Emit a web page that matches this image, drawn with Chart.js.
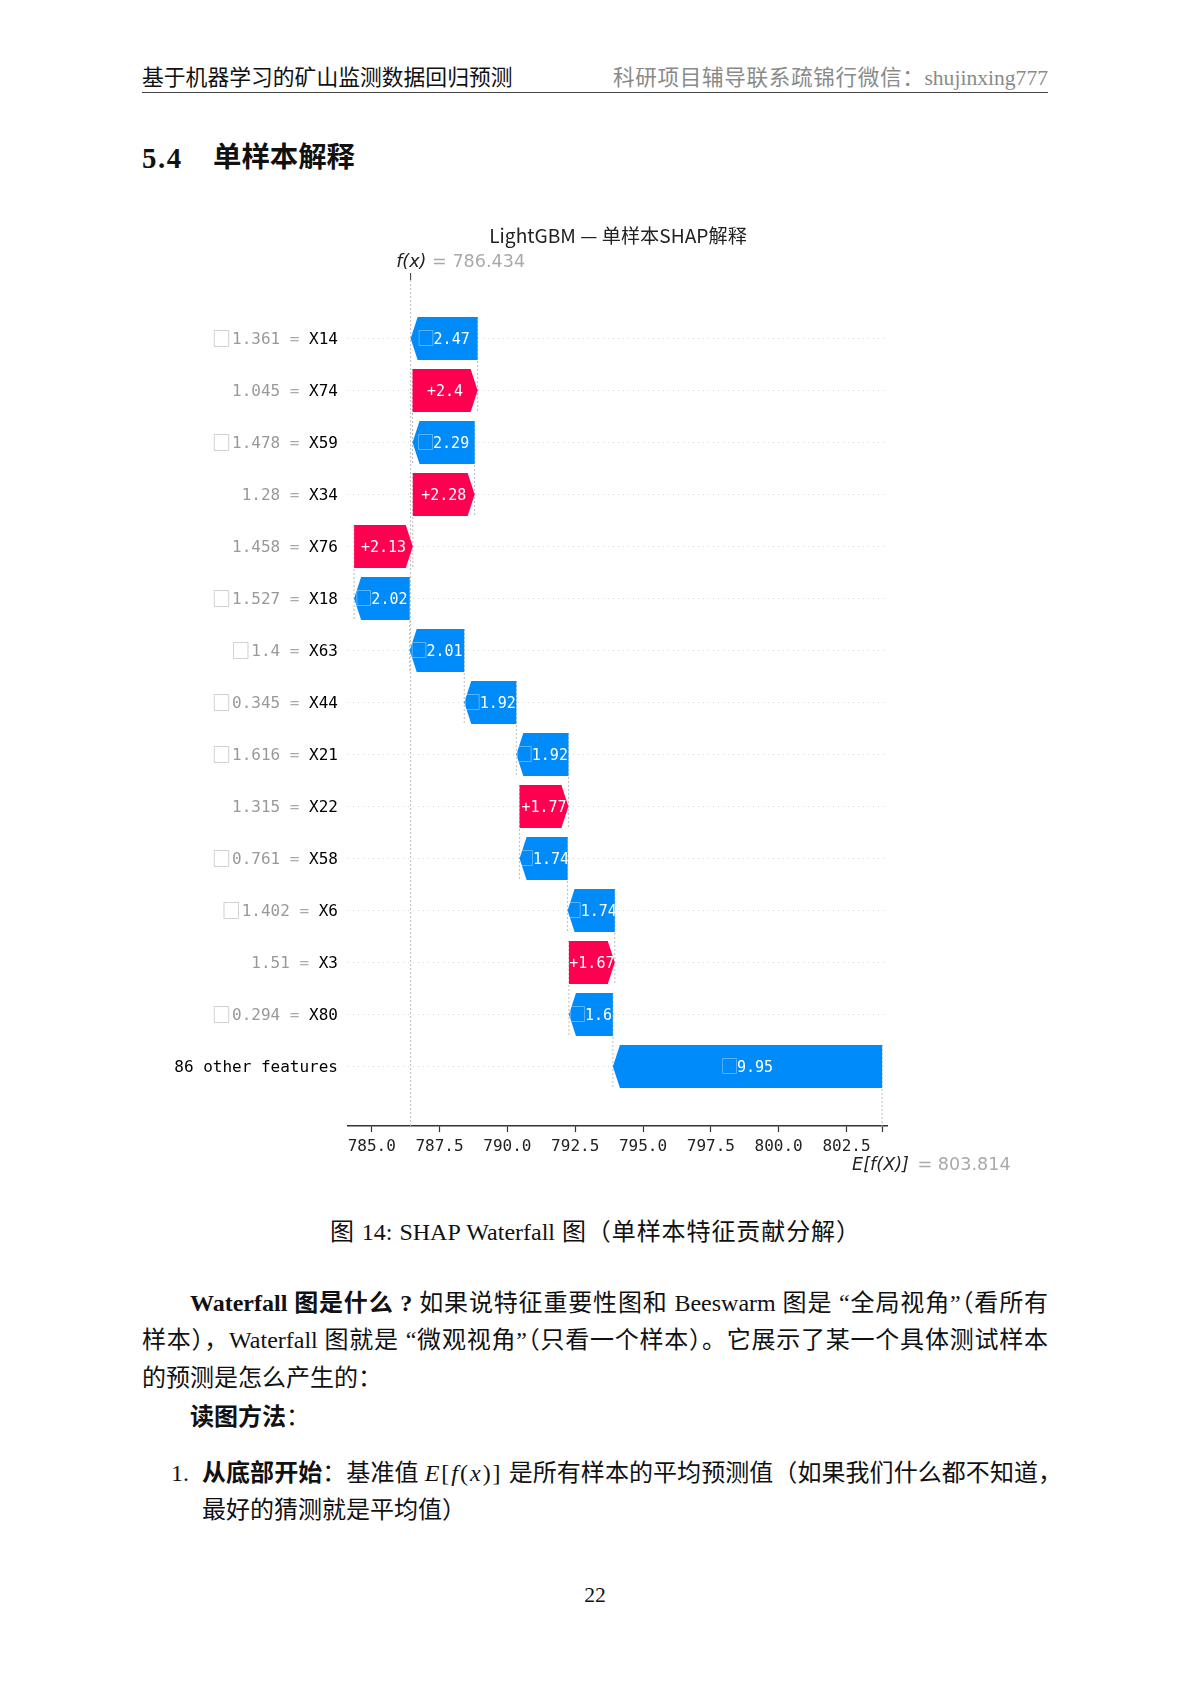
<!DOCTYPE html>
<html lang="zh">
<head>
<meta charset="utf-8">
<title>SHAP Waterfall</title>
<script src="https://cdn.jsdelivr.net/npm/chart.js@4/dist/chart.umd.min.js"></script>
<style>
  html, body { margin: 0; padding: 0; background: #fff; }
  #page { position: relative; width: 1191px; height: 1684px; overflow: hidden;
    font-family: "Liberation Serif", "Noto Sans CJK SC", serif; font-size: 24px; color: #111; }
  #page div { position: absolute; white-space: nowrap; line-height: 30px; }
  #page b { font-weight: 700; }
  #page i { font-style: italic; }
  .just { text-align: justify; text-align-last: justify; text-justify: inter-character; white-space: normal !important; }
  #chartBox { top: 205px; left: 148px; width: 940px; height: 985px; }
</style>
</head>
<body>
<div id="page">
  <div style="left:142px;top:63px;font-size:21.8px">基于机器学习的矿山监测数据回归预测</div>
  <div class="just" style="left:613px;width:435px;height:30px;top:63px;font-size:21.6px;color:#8a8a8a">科研项目辅导联系疏锦行微信：shujinxing777</div>
  <div style="left:142px;top:92px;width:906px;height:1.4px;background:#444"></div>
  <div style="left:142px;top:143px;font-size:28.8px;font-weight:700;letter-spacing:1.6px">5.4</div>
  <div style="left:213px;top:143px;font-size:28.4px;font-weight:700">单样本解释</div>

  <div id="chartBox"><canvas id="waterfall"></canvas></div>

  <div class="just" style="left:330px;width:530px;height:30px;top:1217px">图 14: SHAP Waterfall 图（单样本特征贡献分解）</div>
  <div class="just" style="left:190px;width:858px;top:1288px;height:30px"><b>Waterfall 图是什么 ?</b> 如果说特征重要性图和 Beeswarm 图是 “全局视角”（看所有</div>
  <div class="just" style="left:142px;width:906px;top:1325px;height:30px">样本），Waterfall 图就是 “微观视角”（只看一个样本）。它展示了某一个具体测试样本</div>
  <div style="left:142px;top:1363px">的预测是怎么产生的：</div>
  <div style="left:190px;top:1402px"><b>读图方法</b>：</div>
  <div style="left:171px;top:1458px">1.</div>
  <div class="just" style="left:202px;width:860px;top:1458px;height:30px"><b>从底部开始</b>：基准值 <span style="letter-spacing:2px"><i>E</i>[<i>f</i>(<i>x</i>)]</span> 是所有样本的平均预测值（如果我们什么都不知道，</div>
  <div style="left:202px;top:1495px">最好的猜测就是平均值）</div>
  <div style="left:142px;width:906px;top:1580px;text-align:center;font-size:21.6px">22</div>
</div>

<script>
// values, top row first
const features = ["X14", "X74", "X59", "X34", "X76", "X18", "X63", "X44", "X21", "X22", "X58", "X6", "X3", "X80", "86 other features"];
const featureValues = ["□1.361", "1.045", "□1.478", "1.28", "1.458", "□1.527", "□1.4", "□0.345", "□1.616", "1.315", "□0.761", "□1.402", "1.51", "□0.294", ""];
const barLabels = ["□2.47", "+2.4", "□2.29", "+2.28", "+2.13", "□2.02", "□2.01", "□1.92", "□1.92", "+1.77", "□1.74", "□1.74", "+1.67", "□1.6", "□9.95"];
const barLeft = [786.434, 786.504, 786.504, 786.514, 784.35, 784.35, 786.40, 788.41, 790.33, 790.45, 790.45, 792.22, 792.27, 792.27, 793.89];
const barRight = [788.904, 788.904, 788.794, 788.794, 786.514, 786.40, 788.41, 790.33, 792.25, 792.25, 792.22, 793.96, 793.96, 793.89, 803.814];
const xTicks = [785, 787.5, 790, 792.5, 795, 797.5, 800, 802.5];
const fx = 786.434;
const baseValue = 803.814;

const blue = "#008bfb";
const red = "#ff0051";
const monoFont = "'DejaVu Sans Mono', monospace";
const headLen = 7;
const textDrop = 1.5; // middle baseline sits a little high for these digits

function isPositive(i) { return barLabels[i].startsWith("+"); }

function arrowPath(ctx, left, right, y, h, pointsLeft) {
  const top = y - h / 2, bottom = y + h / 2;
  ctx.beginPath();
  if (pointsLeft) {
    ctx.moveTo(left + headLen, top);
    ctx.lineTo(right, top);
    ctx.lineTo(right, bottom);
    ctx.lineTo(left + headLen, bottom);
    ctx.lineTo(left, y);
  } else {
    ctx.moveTo(left, top);
    ctx.lineTo(right - headLen, top);
    ctx.lineTo(right, y);
    ctx.lineTo(right - headLen, bottom);
    ctx.lineTo(left, bottom);
  }
  ctx.closePath();
}

// bar element drawn as the shap arrow
class ArrowBar extends Chart.BarElement {
  static id = "arrowBar";
  draw(ctx) {
    const { x, y, base, height } = this.getProps(["x", "y", "base", "height"], true);
    ctx.save();
    ctx.fillStyle = this.options.backgroundColor;
    arrowPath(ctx, Math.min(x, base), Math.max(x, base), y, Math.abs(height), this.options.backgroundColor === blue);
    ctx.fill();
    ctx.restore();
  }
}

class WaterfallController extends Chart.BarController {
  static id = "waterfall";
  static defaults = { ...Chart.BarController.defaults, dataElementType: "arrowBar" };
}

Chart.register(ArrowBar, WaterfallController);

const connectors = {
  id: "connectors",
  beforeDatasetsDraw(chart) {
    const { ctx, chartArea, scales: { x, y } } = chart;
    ctx.save();
    ctx.strokeStyle = "#bbbbbb";
    ctx.lineWidth = 1;
    ctx.setLineDash([2, 2]);
    const line = (v, y0, y1) => {
      ctx.beginPath();
      ctx.moveTo(x.getPixelForValue(v), y0);
      ctx.lineTo(x.getPixelForValue(v), y1);
      ctx.stroke();
    };
    line(fx, chartArea.top, chartArea.bottom);
    features.forEach((_, i) => {
      const v = isPositive(i) ? barLeft[i] : barRight[i];
      const last = i === features.length - 1;
      line(v, y.getPixelForValue(i) - 21.5, last ? chartArea.bottom : y.getPixelForValue(i + 1) + 21.5);
    });
    ctx.restore();
  }
};

const annotations = {
  id: "annotations",
  afterDatasetsDraw(chart) {
    const { ctx, chartArea, scales: { x, y } } = chart;
    const meta = chart.getDatasetMeta(0);
    ctx.save();
    ctx.textBaseline = "middle";

    // text inside the arrows, clipped to the arrow like shap does
    meta.data.forEach((bar, i) => {
      const text = barLabels[i].replace("□", "");
      const hasBox = barLabels[i].startsWith("□");
      ctx.save();
      const left = Math.min(bar.x, bar.base), right = Math.max(bar.x, bar.base);
      arrowPath(ctx, left, right, bar.y, 43, !isPositive(i));
      ctx.clip();
      ctx.font = "15px " + monoFont;
      const w = ctx.measureText(text).width + (hasBox ? 15 : 0);
      let tx = (left + right) / 2 - w / 2;
      ctx.textAlign = "left";
      if (hasBox) {
        ctx.font = "18px 'Noto Sans CJK SC'";
        ctx.fillStyle = "rgba(255,255,255,0.45)";
        ctx.fillText("□", tx - 1.5, bar.y);
        tx += 15;
      }
      ctx.font = "15px " + monoFont;
      ctx.fillStyle = "#fff";
      ctx.fillText(text, tx, bar.y + textDrop);
      ctx.restore();
    });

    // grey "value =" part of the row labels
    features.forEach((name, i) => {
      if (!featureValues[i]) return;
      const py = y.getPixelForValue(i) + textDrop;
      const end = chartArea.left - 10 - name.length * 9.63 - 9.63;
      ctx.font = "16px " + monoFont;
      ctx.textAlign = "right";
      ctx.fillStyle = "#aaaaaa";
      ctx.fillText("=", end, py);
      const val = featureValues[i].replace("□", "");
      const valEnd = end - 9.63 * 2;
      ctx.fillStyle = "#999999";
      ctx.fillText(val, valEnd, py);
      if (featureValues[i].startsWith("□")) {
        ctx.font = "19px 'Noto Sans CJK SC'";
        ctx.fillStyle = "#c4c4c4";
        ctx.fillText("□", valEnd - val.length * 9.63 - 1, py - textDrop);
      }
    });

    // f(x) tick and the two value captions
    const fxPx = x.getPixelForValue(fx);
    ctx.strokeStyle = "#333";
    ctx.lineWidth = 1;
    ctx.setLineDash([]);
    ctx.beginPath();
    ctx.moveTo(fxPx, chartArea.top - 7);
    ctx.lineTo(fxPx, chartArea.top);
    ctx.stroke();

    const caption = (math, value, px, py, gap) => {
      ctx.textAlign = "left";
      ctx.textBaseline = "alphabetic";
      ctx.font = "oblique 17.6px 'DejaVu Sans'";
      ctx.fillStyle = "#222";
      ctx.fillText(math, px, py);
      const w = ctx.measureText(math).width;
      ctx.font = "17.6px 'DejaVu Sans'";
      ctx.fillStyle = "#aaaaaa";
      ctx.fillText(" = " + value, px + w + gap, py);
    };
    caption("f(x)", fx.toFixed(3), fxPx - 14.5, chartArea.top - 13, 0);
    caption("E[f(X)]", baseValue.toFixed(3), x.getPixelForValue(baseValue) - 30, chartArea.bottom + 44, 3);
    ctx.restore();
  }
};

new Chart(document.getElementById("waterfall"), {
  type: "waterfall",
  data: {
    labels: features,
    datasets: [{
      data: features.map((_, i) => ({ x: [barLeft[i], barRight[i]], y: i })),
      backgroundColor: features.map((_, i) => isPositive(i) ? red : blue),
      barThickness: 43
    }]
  },
  plugins: [connectors, annotations],
  options: {
    indexAxis: "y",
    responsive: true,
    maintainAspectRatio: false,
    animation: false,
    devicePixelRatio: 1,
    plugins: {
      legend: { display: false },
      tooltip: { enabled: false },
      title: {
        display: true,
        text: "LightGBM — 单样本SHAP解释",
        color: "#222",
        font: { family: "'Noto Sans CJK SC', sans-serif", size: 19.2, weight: "normal", lineHeight: 1.2 },
        padding: { top: 19, bottom: 32.96 }
      }
    },
    scales: {
      x: {
        type: "linear",
        position: "bottom",
        min: 784.125,
        max: 804.02,
        afterBuildTicks: s => { s.ticks = xTicks.concat(baseValue).map(v => ({ value: v })); },
        afterFit: s => { s.height = 64; },
        ticks: {
          autoSkip: false,
          maxRotation: 0,
          color: "#222",
          padding: 5,
          font: { family: monoFont, size: 16 },
          callback: v => xTicks.includes(v) ? v.toFixed(1) : ""
        },
        border: { color: "#333", width: 1.4 },
        grid: { drawOnChartArea: false, tickColor: "#333", tickLength: 6, tickWidth: 1.2 }
      },
      y: {
        type: "linear",
        position: "left",
        reverse: true,
        offset: false,
        min: -1.125,
        max: 15.142,
        afterBuildTicks: s => { s.ticks = features.map((_, i) => ({ value: i })); },
        afterFit: s => { s.width = 200; },
        ticks: {
          autoSkip: false,
          color: "#000",
          padding: 10,
          labelOffset: 1.5,
          font: { family: monoFont, size: 16 },
          callback: v => features[v]
        },
        border: { display: false, dash: [1, 4] },
        grid: { offset: false, drawTicks: false, tickLength: 0, color: "#d8d8d8", lineWidth: 1 }
      },
      // empty right-hand scale, keeps the plot off the right edge so the title stays centred over it
      rightGap: {
        type: "linear",
        position: "right",
        afterFit: s => { s.width = 200.3; },
        ticks: { display: false },
        grid: { display: false },
        border: { display: false }
      }
    }
  }
});
</script>
</body>
</html>
